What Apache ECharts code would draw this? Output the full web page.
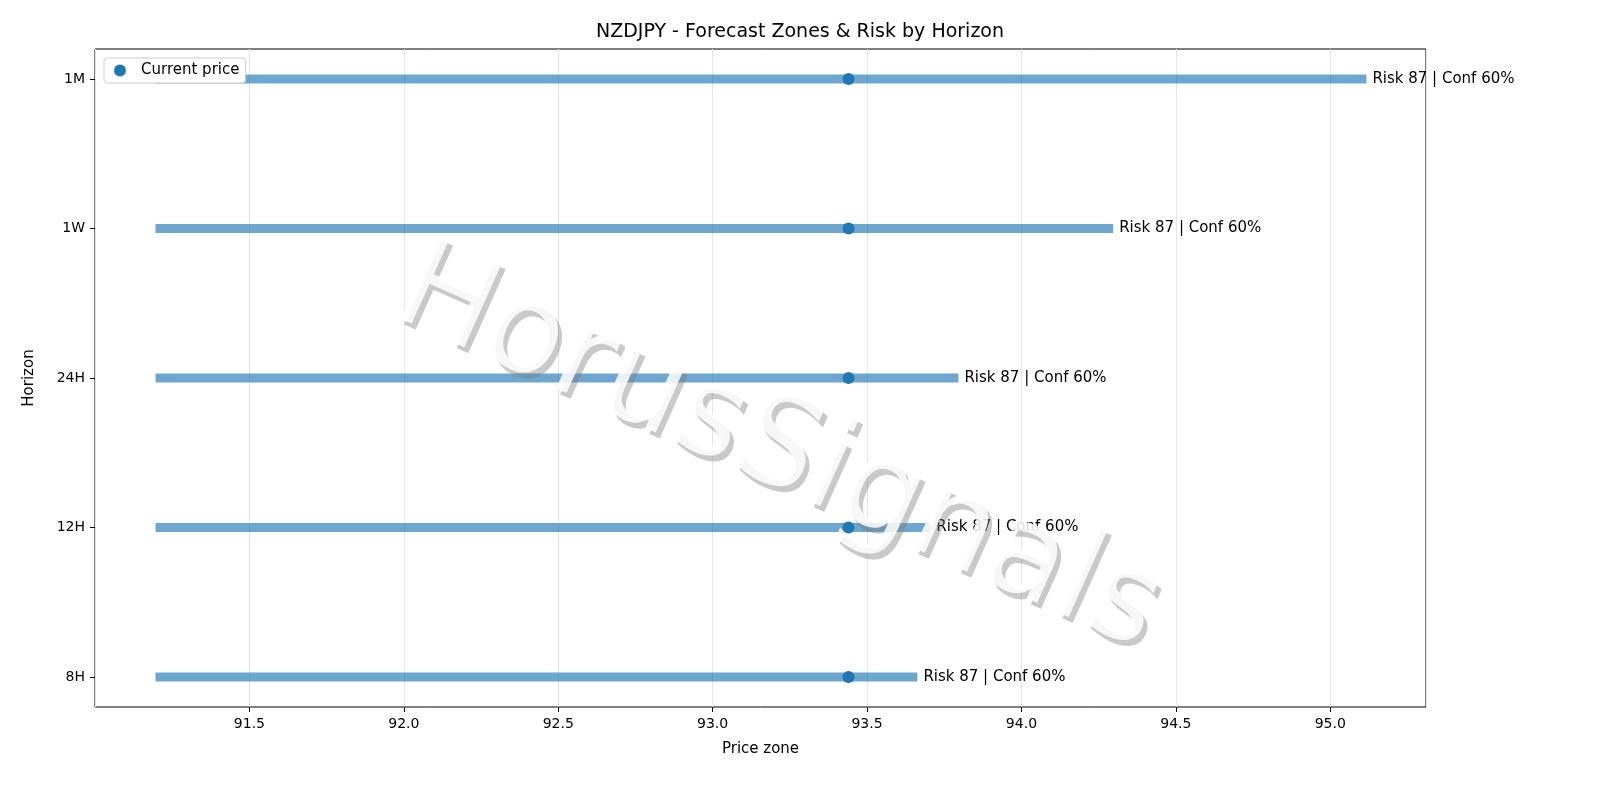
<!DOCTYPE html>
<html lang="en">
<head>
<meta charset="UTF-8">
<title>NZDJPY</title>
<script src="https://cdn.jsdelivr.net/npm/echarts@6/dist/echarts.min.js"></script>
</head>
<body style="margin:0">
<div id="main" style="width:1600px;height:800px;"></div>
<script>
var horizons = ['8H', '12H', '24H', '1W', '1M'];
var zoneLow = [91.196, 91.196, 91.196, 91.196, 91.196];
var zoneHigh = [93.663, 93.705, 93.796, 94.297, 95.117];
var currentPrice = [93.44, 93.44, 93.44, 93.44, 93.44];
var labels = ['Risk 87 | Conf 60%', 'Risk 87 | Conf 60%', 'Risk 87 | Conf 60%', 'Risk 87 | Conf 60%', 'Risk 87 | Conf 60%'];
var xTicks = [91.5, 92.0, 92.5, 93.0, 93.5, 94.0, 94.5, 95.0];

var font = 'DejaVu Sans';
var myChart = echarts.init(document.getElementById('main'));

var zones = horizons.map(function (h, i) { return [zoneLow[i], zoneHigh[i], i, labels[i]]; });
var dots = horizons.map(function (h, i) { return [currentPrice[i], i]; });

// watermark: gray copy behind, white copy on top
function mark(dx, dy, fill, z) {
	return {
		type: 'text', x: 428 + dx, y: 226 + dy, rotation: -0.42, z: z,
		style: { text: 'HorusSignals', fontSize: 126, fontFamily: font, fill: fill }
	};
}

option = {
	animation: false,
	textStyle: { fontFamily: font },
	title: {
		left: 'center', top: 18,
		text: 'NZDJPY - Forecast Zones & Risk by Horizon',
		textStyle: { fontFamily: font, fontWeight: 'normal', fontSize: 19, color: '#000' }
	},
	legend: {
		left: 104, top: 58,
		data: [{ name: 'Current price', icon: 'circle' }],
		itemWidth: 12, itemHeight: 12,
		backgroundColor: '#fff', borderColor: '#ccc', borderWidth: 1, borderRadius: 3,
		padding: [5, 6, 5, 10],
		textStyle: { fontFamily: font, fontSize: 15, color: '#000', padding: [0, 0, 0, 10] }
	},
	grid: { left: 95, right: 174, top: 49, bottom: 93, show: true, borderColor: '#000', borderWidth: 1 },
	xAxis: {
		type: 'value', min: 91.0, max: 95.31, interval: 0.5,
		name: 'Price zone', nameLocation: 'middle', nameGap: 35,
		nameTextStyle: { fontFamily: font, fontSize: 15, color: '#000' },
		axisLine: { show: false, onZero: false },
		axisTick: { show: true, length: 5, lineStyle: { color: '#000' } },
		axisLabel: {
			showMinLabel: false, showMaxLabel: false, fontSize: 14, color: '#000', margin: 10,
			formatter: function (v) { return xTicks.indexOf(v) >= 0 ? v.toFixed(1) : ''; }
		},
		splitLine: { show: true, lineStyle: { color: '#e3e3e3' } }
	},
	yAxis: {
		type: 'value', min: -0.2, max: 4.2,
		name: 'Horizon', nameLocation: 'middle', nameGap: 58, nameRotate: 90,
		nameTextStyle: { fontFamily: font, fontSize: 15, color: '#000' },
		axisLine: { show: false, onZero: false },
		axisTick: { show: true, length: 5, customValues: [0, 1, 2, 3, 4], lineStyle: { color: '#000' } },
		axisLabel: {
			customValues: [0, 1, 2, 3, 4], fontSize: 14, color: '#000', margin: 10,
			formatter: function (v) { return horizons[Math.round(v)]; }
		},
		splitLine: { show: false }
	},
	graphic: [
		mark(4, 6, 'rgba(120,120,120,0.4)', 100),
		mark(0, 0, 'rgba(255,255,255,0.85)', 101)
	],
	series: [{
		type: 'custom',
		data: zones,
		encode: { x: [0, 1], y: 2 },
		renderItem: function (params, api) {
			var a = api.coord([api.value(0), api.value(2)]);
			var b = api.coord([api.value(1), api.value(2)]);
			return {
				type: 'group',
				children: [{
					type: 'line',
					shape: { x1: a[0], y1: a[1], x2: b[0], y2: b[1] },
					style: { stroke: 'rgba(31,119,180,0.65)', lineWidth: 9 }
				}, {
					type: 'text',
					style: {
						x: b[0] + 6, y: b[1], text: labels[params.dataIndex],
						fontFamily: font, fontSize: 15, fill: '#000', verticalAlign: 'middle'
					}
				}]
			};
		}
	}, {
		name: 'Current price',
		type: 'scatter',
		data: dots,
		symbolSize: 12,
		itemStyle: { color: '#1f77b4', opacity: 1 },
		z: 5
	}]
};
myChart.setOption(option);
</script>
</body>
</html>
